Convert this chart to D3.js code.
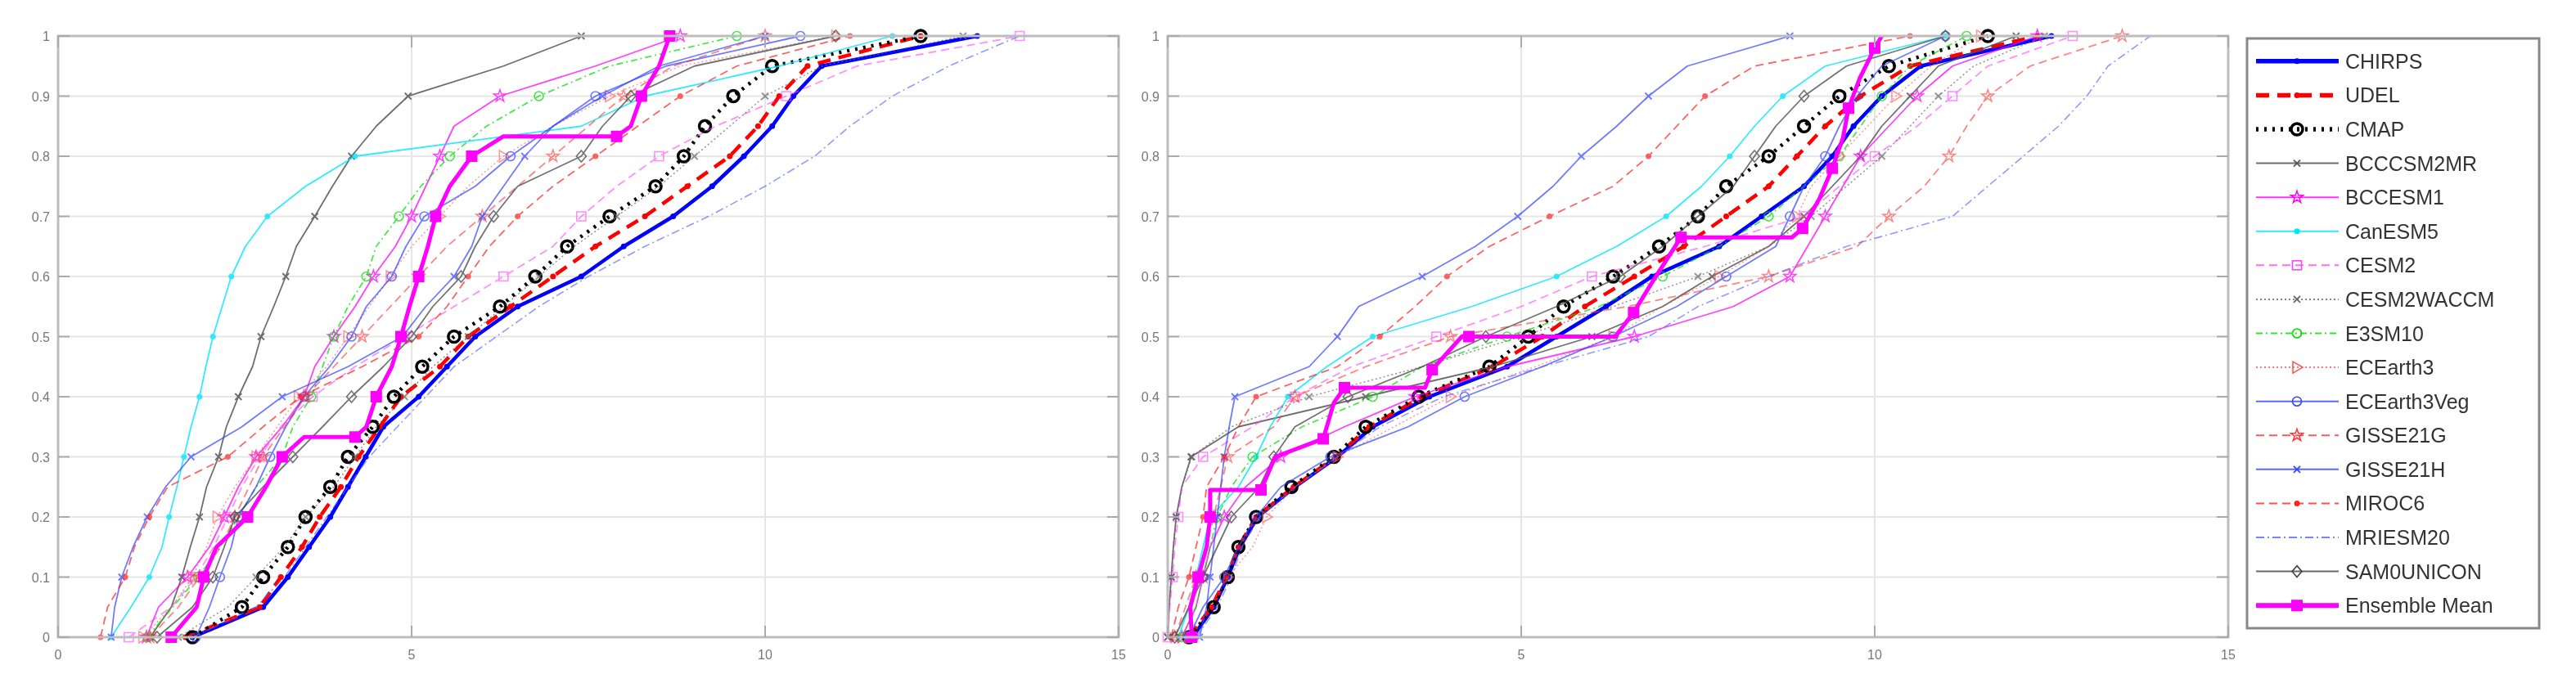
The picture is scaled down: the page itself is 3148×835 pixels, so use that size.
<!DOCTYPE html>
<html><head><meta charset="utf-8">
<script src="https://cdn.jsdelivr.net/npm/d3@7"></script>
<style>body{margin:0;background:#fff}svg{display:block}</style>
</head><body><svg id="c" width="3148" height="835"></svg>
<script>
const levels = d3.range(0, 21).map(i => i * 0.05);
const seriesNames = ["CHIRPS","UDEL","CMAP","BCCCSM2MR","BCCESM1","CanESM5","CESM2","CESM2WACCM","E3SM10","ECEarth3","ECEarth3Veg","GISSE21G","GISSE21H","MIROC6","MRIESM20","SAM0UNICON","Ensemble Mean"];
const xTicks = [0,5,10,15];
const yTicks = [0,0.1,0.2,0.3,0.4,0.5,0.6,0.7,0.8,0.9,1];

// Left panel: x value reached at each cumulative level (0, 0.05, ..., 1)
const leftCHIRPS = [1.9,2.9,3.25,3.55,3.85,4.1,4.35,4.6,5.1,5.5,5.9,6.5,7.4,8.0,8.7,9.25,9.7,10.1,10.4,10.8,13.0];
const leftUDEL = [1.8,2.85,3.15,3.45,3.7,4.0,4.25,4.55,4.85,5.4,5.8,6.4,7.0,7.6,8.3,8.9,9.5,9.9,10.2,10.6,12.2];
const leftCMAP = [1.9,2.6,2.9,3.25,3.5,3.85,4.1,4.45,4.75,5.15,5.6,6.25,6.75,7.2,7.8,8.45,8.85,9.15,9.55,10.1,12.2];
const leftBCCCSM2MR = [1.3,1.6,1.75,1.87,2.0,2.1,2.27,2.38,2.55,2.75,2.87,3.05,3.22,3.37,3.63,3.88,4.15,4.5,4.95,6.3,7.4];
const leftBCCESM1 = [1.25,1.42,1.83,2.14,2.35,2.55,2.8,3.17,3.48,3.63,3.9,4.2,4.46,4.77,5.0,5.2,5.4,5.6,6.25,7.6,8.8];
const leftCanESM5 = [0.75,1.03,1.29,1.47,1.57,1.68,1.78,1.88,2.0,2.09,2.19,2.32,2.45,2.65,2.96,3.5,4.2,7.4,8.3,10.2,11.8];
const leftCESM2 = [1.0,1.6,1.95,2.2,2.4,2.6,2.85,3.15,3.6,4.2,4.9,5.6,6.3,7.0,7.4,7.9,8.5,9.3,10.3,11.3,13.6];
const leftCESM2WACCM = [1.7,2.4,2.8,3.2,3.5,3.9,4.2,4.5,4.9,5.3,5.8,6.3,6.8,7.3,7.9,8.5,9.0,9.5,10.0,10.8,12.8];
const leftE3SM10 = [1.26,1.62,1.98,2.29,2.55,2.8,3.17,3.32,3.58,3.74,3.9,4.1,4.36,4.5,4.82,5.13,5.54,6.06,6.8,7.8,9.6];
const leftECEarth3 = [1.2,1.6,1.9,2.1,2.25,2.5,2.8,3.1,3.4,3.8,4.1,4.4,4.7,5.0,5.4,5.8,6.3,7.0,7.8,8.8,11.0];
const leftECEarth3Veg = [1.95,2.14,2.29,2.45,2.55,2.8,3.0,3.22,3.48,3.84,4.15,4.36,4.72,4.92,5.18,5.9,6.4,7.0,7.6,8.6,10.5];
const leftGISSE21G = [1.3,1.7,2.0,2.3,2.5,2.7,2.9,3.2,3.5,3.9,4.3,4.7,5.1,5.5,6.0,6.5,7.0,7.5,8.0,8.7,10.0];
const leftGISSE21H = [0.75,0.8,0.9,1.06,1.26,1.52,1.88,2.6,3.17,4.1,4.87,5.2,5.6,5.85,6.0,6.3,6.6,7.0,7.7,8.5,10.0];
const leftMIROC6 = [0.6,0.7,0.95,1.08,1.29,1.55,2.4,2.9,3.43,4.3,5.1,5.5,5.8,6.1,6.5,7.0,7.6,8.2,8.8,9.6,11.2];
const leftMRIESM20 = [1.9,2.8,3.2,3.5,3.8,4.1,4.4,4.8,5.2,5.6,6.2,6.8,7.5,8.3,9.2,10.0,10.7,11.2,11.8,12.6,13.6];
const leftSAM0UNICON = [1.4,1.9,2.19,2.35,2.5,2.9,3.32,3.74,4.15,4.6,5.0,5.3,5.7,5.9,6.16,6.5,7.4,7.7,8.1,9.0,11.0];
const leftEnsX = [1.6,1.96,2.06,2.24,2.68,2.94,3.17,3.48,4.2,4.36,4.5,4.72,4.85,4.97,5.1,5.23,5.34,5.54,5.85,6.3,7.9,8.1,8.25,8.5,8.65];
const leftEnsY = [0,0.05,0.1,0.15,0.2,0.25,0.3,0.333,0.333,0.35,0.4,0.45,0.5,0.55,0.6,0.65,0.7,0.75,0.8,0.833,0.833,0.85,0.9,0.95,1.0];

// Right panel
const rightCHIRPS = [0.35,0.65,0.85,1.02,1.27,1.8,2.4,2.9,3.7,4.8,5.5,6.2,6.85,7.8,8.4,9.0,9.4,9.7,10.1,10.65,12.5];
const rightUDEL = [0.3,0.62,0.83,1.0,1.25,1.78,2.38,2.85,3.6,4.6,5.3,5.9,6.6,7.3,7.9,8.5,8.9,9.3,9.8,10.5,12.3];
const rightCMAP = [0.3,0.65,0.85,1.0,1.25,1.75,2.35,2.8,3.55,4.55,5.1,5.6,6.3,6.95,7.5,7.9,8.5,9.0,9.5,10.2,11.6];
const rightBCCCSM2MR = [0.0,0.02,0.05,0.08,0.12,0.2,0.33,1.0,2.8,4.6,6.0,7.0,7.7,8.5,9.0,9.4,9.8,10.1,10.5,10.9,12.0];
const rightBCCESM1 = [0.2,0.4,0.5,0.6,0.8,1.1,1.6,2.5,3.5,4.8,6.6,8.0,8.8,9.05,9.3,9.55,9.8,10.2,10.6,11.1,12.3];
const rightCanESM5 = [0.15,0.3,0.4,0.5,0.6,1.0,1.25,1.45,1.7,2.25,2.9,4.3,5.5,6.35,7.05,7.55,7.95,8.3,8.7,9.3,11.0];
const rightCESM2 = [0.0,0.03,0.07,0.1,0.15,0.2,0.5,1.2,1.8,2.6,3.8,5.0,6.0,7.6,9.0,9.5,10.0,10.6,11.1,11.6,12.8];
const rightCESM2WACCM = [0.0,0.02,0.05,0.08,0.12,0.2,0.34,0.9,2.0,3.6,5.0,6.3,7.5,8.5,9.1,9.6,10.1,10.5,10.9,11.4,12.4];
const rightE3SM10 = [0.2,0.4,0.5,0.6,0.7,0.9,1.2,1.9,2.9,3.6,4.8,6.1,7.0,7.8,8.5,9.0,9.5,9.8,10.1,10.5,11.3];
const rightECEarth3 = [0.3,0.6,0.85,1.2,1.4,1.8,2.4,3.2,4.0,5.2,6.3,7.0,7.8,8.5,8.9,9.1,9.5,9.9,10.3,10.8,11.5];
const rightECEarth3Veg = [0.3,0.5,0.8,1.0,1.25,1.6,2.3,3.4,4.2,5.3,6.3,7.2,7.9,8.6,8.8,9.0,9.3,9.5,9.75,10.1,11.0];
const rightGISSE21G = [0.1,0.25,0.4,0.55,0.65,0.75,0.85,1.5,1.8,2.8,4.0,6.5,8.5,9.75,10.2,10.7,11.05,11.3,11.6,12.2,13.5];
const rightGISSE21H = [0.45,0.55,0.6,0.65,0.7,0.75,0.8,0.87,0.95,2.0,2.4,2.7,3.6,4.35,4.95,5.45,5.85,6.35,6.8,7.35,8.8];
const rightMIROC6 = [0.05,0.15,0.3,0.4,0.5,0.55,0.8,1.0,1.25,2.4,3.0,3.5,3.95,4.55,5.4,6.3,6.8,7.2,7.6,8.3,10.5];
const rightMRIESM20 = [0.4,0.7,0.9,1.05,1.3,1.8,2.4,3.0,3.9,5.3,6.8,7.5,8.5,9.6,11.1,11.6,12.1,12.6,13.0,13.3,13.9];
const rightSAM0UNICON = [0.1,0.3,0.5,0.7,0.9,1.3,1.5,1.8,2.55,3.6,4.5,5.5,6.4,7.0,7.5,8.0,8.3,8.6,9.0,9.6,11.0];
const rightEnsX = [0.34,0.32,0.43,0.55,0.6,0.6,1.32,1.52,2.2,2.35,2.5,3.64,3.74,4.16,4.26,6.33,6.59,6.85,7.26,8.83,8.98,9.22,9.4,9.55,9.63,9.79,10.0,10.1];
const rightEnsY = [0,0.05,0.1,0.15,0.2,0.245,0.245,0.3,0.33,0.39,0.415,0.415,0.445,0.5,0.5,0.5,0.54,0.59,0.665,0.665,0.68,0.73,0.78,0.83,0.88,0.93,0.98,1.0];

const leftData = [leftCHIRPS,leftUDEL,leftCMAP,leftBCCCSM2MR,leftBCCESM1,leftCanESM5,leftCESM2,leftCESM2WACCM,leftE3SM10,leftECEarth3,leftECEarth3Veg,leftGISSE21G,leftGISSE21H,leftMIROC6,leftMRIESM20,leftSAM0UNICON];
const rightData = [rightCHIRPS,rightUDEL,rightCMAP,rightBCCCSM2MR,rightBCCESM1,rightCanESM5,rightCESM2,rightCESM2WACCM,rightE3SM10,rightECEarth3,rightECEarth3Veg,rightGISSE21G,rightGISSE21H,rightMIROC6,rightMRIESM20,rightSAM0UNICON];

const styles = [
 {c:"#0000ff",w:4.5,d:null,m:"dot",o:1},
 {c:"#ff0000",w:4.5,d:"16,10",m:"dot",o:1},
 {c:"#000000",w:4.5,d:"3,7",m:"bigcircle",o:1},
 {c:"#555555",w:1.8,d:null,m:"x",o:0.85},
 {c:"#ff00ff",w:1.8,d:null,m:"star",o:0.75},
 {c:"#00e5ff",w:1.8,d:null,m:"dot",o:0.8},
 {c:"#ff44ff",w:1.8,d:"10,6",m:"square",o:0.6},
 {c:"#666666",w:1.5,d:"2,3",m:"x",o:0.7},
 {c:"#00dd00",w:1.8,d:"8,4,2,4",m:"circle",o:0.7},
 {c:"#ff5555",w:1.5,d:"2,3",m:"tri",o:0.6},
 {c:"#3344ff",w:1.8,d:null,m:"circle",o:0.7},
 {c:"#ff3333",w:1.8,d:"10,6",m:"star",o:0.6},
 {c:"#3344ff",w:1.8,d:null,m:"x",o:0.7},
 {c:"#ff2222",w:1.8,d:"10,6",m:"dot",o:0.7},
 {c:"#5566ff",w:1.6,d:"10,4,2,4",m:null,o:0.65},
 {c:"#444444",w:1.8,d:null,m:"diamond",o:0.75},
 {c:"#ff00ff",w:5,d:null,m:"bigsquare",o:1}
];

const svg = d3.select("#c");
const panels = [
 {x0:71,x1:1367,data:leftData,ensX:leftEnsX,ensY:leftEnsY},
 {x0:1427,x1:2723,data:rightData,ensX:rightEnsX,ensY:rightEnsY}
];
const yTop=44, yBot=779;

function marker(g,type,x,y,col){
  const s=col;
  if(type==="dot") g.append("circle").attr("cx",x).attr("cy",y).attr("r",3.5).attr("fill",s);
  else if(type==="bigcircle") g.append("circle").attr("cx",x).attr("cy",y).attr("r",7).attr("fill","none").attr("stroke",s).attr("stroke-width",3.5);
  else if(type==="circle") g.append("circle").attr("cx",x).attr("cy",y).attr("r",5.5).attr("fill","none").attr("stroke",s).attr("stroke-width",1.6);
  else if(type==="square") g.append("rect").attr("x",x-5.5).attr("y",y-5.5).attr("width",11).attr("height",11).attr("fill","none").attr("stroke",s).attr("stroke-width",1.6);
  else if(type==="bigsquare") g.append("rect").attr("x",x-7).attr("y",y-7).attr("width",14).attr("height",14).attr("fill",s);
  else if(type==="x") g.append("path").attr("d",`M${x-4},${y-4}L${x+4},${y+4}M${x-4},${y+4}L${x+4},${y-4}`).attr("stroke",s).attr("stroke-width",1.8);
  else if(type==="diamond") g.append("path").attr("d",`M${x},${y-7}L${x+6},${y}L${x},${y+7}L${x-6},${y}Z`).attr("fill","none").attr("stroke",s).attr("stroke-width",1.6);
  else if(type==="tri") g.append("path").attr("d",`M${x-5},${y-7}L${x+7},${y}L${x-5},${y+7}Z`).attr("fill","none").attr("stroke",s).attr("stroke-width",1.6);
  else if(type==="star") g.append("path").attr("d",d3.symbol(d3.symbolStar,70)()).attr("transform",`translate(${x},${y})`).attr("fill","none").attr("stroke",s).attr("stroke-width",1.5);
}

panels.forEach(p=>{
  const x=d3.scaleLinear().domain([0,15]).range([p.x0,p.x1]);
  const y=d3.scaleLinear().domain([0,1]).range([yBot,yTop]);
  const g=svg.append("g");
  g.selectAll(".gy").data(yTicks).join("line").attr("x1",p.x0).attr("x2",p.x1).attr("y1",d=>y(d)).attr("y2",d=>y(d)).attr("stroke","#e6e6e6").attr("stroke-width",2);
  g.selectAll(".gx").data(xTicks).join("line").attr("x1",d=>x(d)).attr("x2",d=>x(d)).attr("y1",yTop).attr("y2",yBot).attr("stroke","#e6e6e6").attr("stroke-width",2);
  const line=d3.line().x(d=>x(d[0])).y(d=>y(d[1]));
  const clip=g.append("g");
  p.data.forEach((arr,i)=>{
    const st=styles[i];
    const pts=arr.map((v,k)=>[v,levels[k]]);
    const sg=clip.append("g").attr("opacity",st.o);
    sg.append("path").attr("d",line(pts)).attr("fill","none").attr("stroke",st.c).attr("stroke-width",st.w).attr("stroke-dasharray",st.d).attr("stroke-linejoin","round");
    if(st.m) pts.forEach((q,k)=>{ if(k%2===0||i<3) marker(sg,st.m,x(q[0]),y(q[1]),st.c); });
  });
  const ens=p.ensX.map((v,k)=>[v,p.ensY[k]]);
  const st=styles[16];
  clip.append("path").attr("d",line(ens)).attr("fill","none").attr("stroke",st.c).attr("stroke-width",st.w).attr("stroke-linejoin","round");
  ens.forEach((q,k)=>{ if(k%2===0) marker(clip,"bigsquare",x(q[0]),y(q[1]),st.c); });
  g.append("rect").attr("x",p.x0).attr("y",yTop).attr("width",p.x1-p.x0).attr("height",yBot-yTop).attr("fill","none").attr("stroke","#bdbdbd").attr("stroke-width",3);
  const ax=g.append("g").attr("stroke","#aaaaaa").attr("stroke-width",2);
  yTicks.forEach(t=>{ax.append("line").attr("x1",p.x0).attr("x2",p.x0+14).attr("y1",y(t)).attr("y2",y(t));ax.append("line").attr("x1",p.x1-14).attr("x2",p.x1).attr("y1",y(t)).attr("y2",y(t));});
  xTicks.forEach(t=>{ax.append("line").attr("x1",x(t)).attr("x2",x(t)).attr("y1",yBot).attr("y2",yBot-14);ax.append("line").attr("x1",x(t)).attr("x2",x(t)).attr("y1",yTop).attr("y2",yTop+14);});
  g.selectAll(".yl").data(yTicks).join("text").attr("x",p.x0-10).attr("y",d=>y(d)+6).attr("text-anchor","end").attr("font-family","Liberation Sans, Arial").attr("font-size",16).attr("fill","#777").text(d=>d3.format("~g")(d));
  g.selectAll(".xl").data(xTicks).join("text").attr("x",d=>x(d)).attr("y",yBot+27).attr("text-anchor","middle").attr("font-family","Liberation Sans, Arial").attr("font-size",16).attr("fill","#777").text(d=>d);
});

// legend
const lg=svg.append("g");
const lTop=47, lBot=768;
lg.append("rect").attr("x",2746).attr("y",lTop).attr("width",357).attr("height",lBot-lTop).attr("fill","#fff").attr("stroke","#888").attr("stroke-width",3);
const rowH=(lBot-lTop-14)/17;
seriesNames.forEach((n,i)=>{
  const st=styles[i];
  const cy=lTop+7+rowH*(i+0.5);
  const eg=lg.append("g");
  eg.append("line").attr("x1",2757).attr("x2",2858).attr("y1",cy).attr("y2",cy).attr("stroke",st.c).attr("stroke-width",st.w<2?2:st.w+1).attr("stroke-dasharray",st.d).attr("opacity",Math.max(st.o,0.8));
  if(st.m) marker(eg,st.m,2807,cy,st.c);
  lg.append("text").attr("x",2866).attr("y",cy+9).attr("font-family","Liberation Sans, Arial").attr("font-size",25).attr("fill","#333").text(n);
});
</script></body></html>
